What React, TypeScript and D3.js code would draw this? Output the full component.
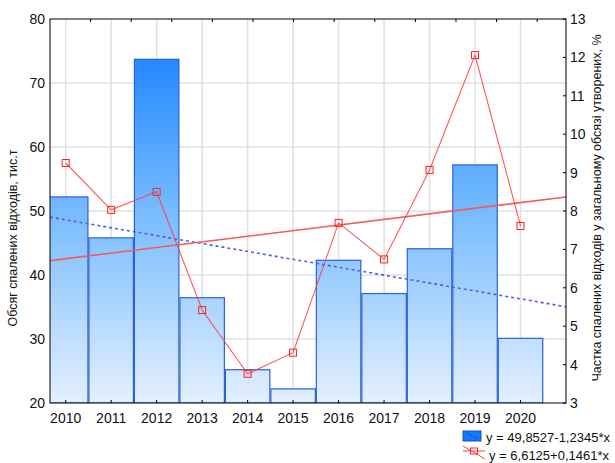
import { useEffect, useRef } from "react"
import * as d3 from "d3"

const years = [2010, 2011, 2012, 2013, 2014, 2015, 2016, 2017, 2018, 2019, 2020]
const burned = [52.2, 45.8, 73.7, 36.45, 25.2, 22.2, 42.3, 37.1, 44.1, 57.2, 30.1]
const share = [9.25, 8.03, 8.5, 5.42, 3.76, 4.31, 7.69, 6.74, 9.07, 12.06, 7.61]
const leftTicks = [20, 30, 40, 50, 60, 70, 80]
const rightTicks = [3, 4, 5, 6, 7, 8, 9, 10, 11, 12, 13]
const topTicks = [1, 2, 3, 4, 5, 6, 7, 8, 9, 10, 11, 12]
const burnedFit = [49.8527, -1.2345]
const shareFit = [6.6125, 0.1461]
const legendLabels = ["y = 49,8527-1,2345*x", "y = 6,6125+0,1461*x"]

const W = 615
const H = 463
const FONT = "'Liberation Sans', Arial, sans-serif"

export default function App() {
  const svgRef = useRef<SVGSVGElement>(null)

  useEffect(() => {
    if (!svgRef.current) return
    const svg = d3.select(svgRef.current)
    svg.selectAll("*").remove()

    const left = 50, right = 566, top = 19, bottom = 403

    const x = d3.scaleLinear().domain([2009.655, 2021]).range([left, right])
    const yL = d3.scaleLinear().domain([20, 80]).range([bottom, top])
    const yR = d3.scaleLinear().domain([3, 13]).range([bottom, top])
    const xTop = d3.scaleLinear().domain([0, 12.71]).range([left, right])
    const idx = (yr: number) => yr - 2009

    const defs = svg.append("defs")
    const grad = defs.append("linearGradient")
      .attr("id", "barGrad")
      .attr("gradientUnits", "userSpaceOnUse")
      .attr("x1", 0).attr("x2", 0)
      .attr("y1", top).attr("y2", bottom)
    grad.append("stop").attr("offset", "0%").attr("stop-color", "#0f7bff")
    grad.append("stop").attr("offset", "45%").attr("stop-color", "#6cb5ff")
    grad.append("stop").attr("offset", "100%").attr("stop-color", "#e4f0fe")

    defs.append("clipPath").attr("id", "plotClip")
      .append("rect")
      .attr("x", left).attr("y", top)
      .attr("width", right - left).attr("height", bottom - top)

    // grid
    const grid = svg.append("g")
    grid.selectAll("line.v").data(years).join("line")
      .attr("x1", d => x(d)).attr("x2", d => x(d))
      .attr("y1", top).attr("y2", bottom)
      .attr("stroke", "#e0e0e0").attr("stroke-width", 1.5)
    grid.selectAll("line.h").data(leftTicks.slice(1, -1)).join("line")
      .attr("x1", left).attr("x2", right)
      .attr("y1", d => yL(d)).attr("y2", d => yL(d))
      .attr("stroke", "#e0e0e0").attr("stroke-width", 1.5)

    const plot = svg.append("g").attr("clip-path", "url(#plotClip)")

    // bars
    plot.selectAll("rect.bar").data(years).join("rect")
      .attr("x", d => x(d - 0.5) + 0.5)
      .attr("width", d => x(d + 0.5) - x(d - 0.5) - 1)
      .attr("y", (d, i) => yL(burned[i]))
      .attr("height", (d, i) => bottom - yL(burned[i]))
      .attr("fill", "url(#barGrad)")
      .attr("stroke", "#2a62d6")
      .attr("stroke-width", 1.2)

    // blue regression (dashed)
    const lineL = d3.line<number>()
      .x(d => x(d))
      .y(d => yL(burnedFit[0] + burnedFit[1] * idx(d)))
    plot.append("path")
      .attr("d", lineL([2009.655, 2021]) as string)
      .attr("fill", "none")
      .attr("stroke", "#4d5cf2")
      .attr("stroke-width", 1.6)
      .attr("stroke-dasharray", "3,3")

    // red regression
    const lineR = d3.line<number>()
      .x(d => x(d))
      .y(d => yR(shareFit[0] + shareFit[1] * idx(d)))
    plot.append("path")
      .attr("d", lineR([2009.655, 2021]) as string)
      .attr("fill", "none")
      .attr("stroke", "#f25c5c")
      .attr("stroke-width", 1.6)

    // red data line
    const shareLine = d3.line<number>()
      .x((d, i) => x(years[i]))
      .y(d => yR(d))
    plot.append("path")
      .attr("d", shareLine(share) as string)
      .attr("fill", "none")
      .attr("stroke", "#ff3c3c")
      .attr("stroke-opacity", 0.85)
      .attr("stroke-width", 1.1)
    plot.selectAll("rect.mk").data(share).join("rect")
      .attr("x", (d, i) => x(years[i]) - 3.5)
      .attr("y", d => yR(d) - 3.5)
      .attr("width", 7).attr("height", 7)
      .attr("fill", "none")
      .attr("stroke", "#ff2020")
      .attr("stroke-width", 1)

    // frame
    svg.append("rect")
      .attr("x", left).attr("y", top)
      .attr("width", right - left).attr("height", bottom - top)
      .attr("fill", "none").attr("stroke", "#000").attr("stroke-width", 1)

    // ticks
    svg.append("g").selectAll("line").data(years).join("line")
      .attr("x1", d => x(d)).attr("x2", d => x(d))
      .attr("y1", bottom).attr("y2", bottom - 3)
      .attr("stroke", "#000")
    svg.append("g").selectAll("line").data(topTicks).join("line")
      .attr("x1", d => xTop(d)).attr("x2", d => xTop(d))
      .attr("y1", top).attr("y2", top + 3)
      .attr("stroke", "#000")
    svg.append("g").selectAll("line").data(rightTicks).join("line")
      .attr("x1", right).attr("x2", right - 3)
      .attr("y1", d => yR(d)).attr("y2", d => yR(d))
      .attr("stroke", "#000")

    // tick labels
    svg.append("g").selectAll("text").data(leftTicks).join("text")
      .attr("x", left - 5).attr("y", d => yL(d) + 5)
      .attr("text-anchor", "end")
      .attr("font-family", FONT).attr("font-size", 14)
      .attr("fill", "#111")
      .text(d => d)
    svg.append("g").selectAll("text").data(rightTicks).join("text")
      .attr("x", right + 4).attr("y", d => yR(d) + 5)
      .attr("font-family", FONT).attr("font-size", 14)
      .attr("fill", "#111")
      .text(d => d)
    svg.append("g").selectAll("text").data(years).join("text")
      .attr("x", d => x(d)).attr("y", bottom + 20)
      .attr("text-anchor", "middle")
      .attr("font-family", FONT).attr("font-size", 14)
      .attr("fill", "#111")
      .text(d => d)

    // axis titles
    svg.append("text")
      .attr("transform", `translate(17,238) rotate(-90)`)
      .attr("text-anchor", "middle")
      .attr("font-family", FONT).attr("font-size", 12.5)
      .attr("fill", "#111")
      .text("Обсяг спалених відходів, тис.т")
    svg.append("text")
      .attr("transform", `translate(601,208) rotate(-90)`)
      .attr("text-anchor", "middle")
      .attr("font-family", FONT).attr("font-size", 12.5)
      .attr("fill", "#111")
      .text("Частка спалених відходів у загальному обсязі утворених, %")

    // legend
    const lg = svg.append("g")
    lg.append("rect")
      .attr("x", 463).attr("y", 431).attr("width", 18).attr("height", 10)
      .attr("fill", "#0f7bff").attr("stroke", "#1e4fb8").attr("stroke-width", 1)
    lg.append("line")
      .attr("x1", 467).attr("x2", 478).attr("y1", 433).attr("y2", 439)
      .attr("stroke", "#2030a0").attr("stroke-width", 1).attr("stroke-dasharray", "2,2")
    lg.append("text")
      .attr("x", 486).attr("y", 442)
      .attr("font-family", FONT).attr("font-size", 13).attr("fill", "#111")
      .text(legendLabels[0])
    lg.append("line")
      .attr("x1", 463).attr("x2", 485).attr("y1", 451).attr("y2", 451)
      .attr("stroke", "#ff3c3c").attr("stroke-width", 1)
    lg.append("line")
      .attr("x1", 463).attr("x2", 485).attr("y1", 446).attr("y2", 459)
      .attr("stroke", "#ff3c3c").attr("stroke-width", 1)
    lg.append("rect")
      .attr("x", 470.5).attr("y", 448).attr("width", 7).attr("height", 6)
      .attr("fill", "none").attr("stroke", "#ff2020").attr("stroke-width", 1)
    lg.append("text")
      .attr("x", 489).attr("y", 460)
      .attr("font-family", FONT).attr("font-size", 13).attr("fill", "#111")
      .text(legendLabels[1])
  }, [])

  return (
    <svg
      ref={svgRef}
      width={W}
      height={H}
      style={{ position: "absolute", left: 0, top: 0, background: "#fff" }}
    />
  )
}
